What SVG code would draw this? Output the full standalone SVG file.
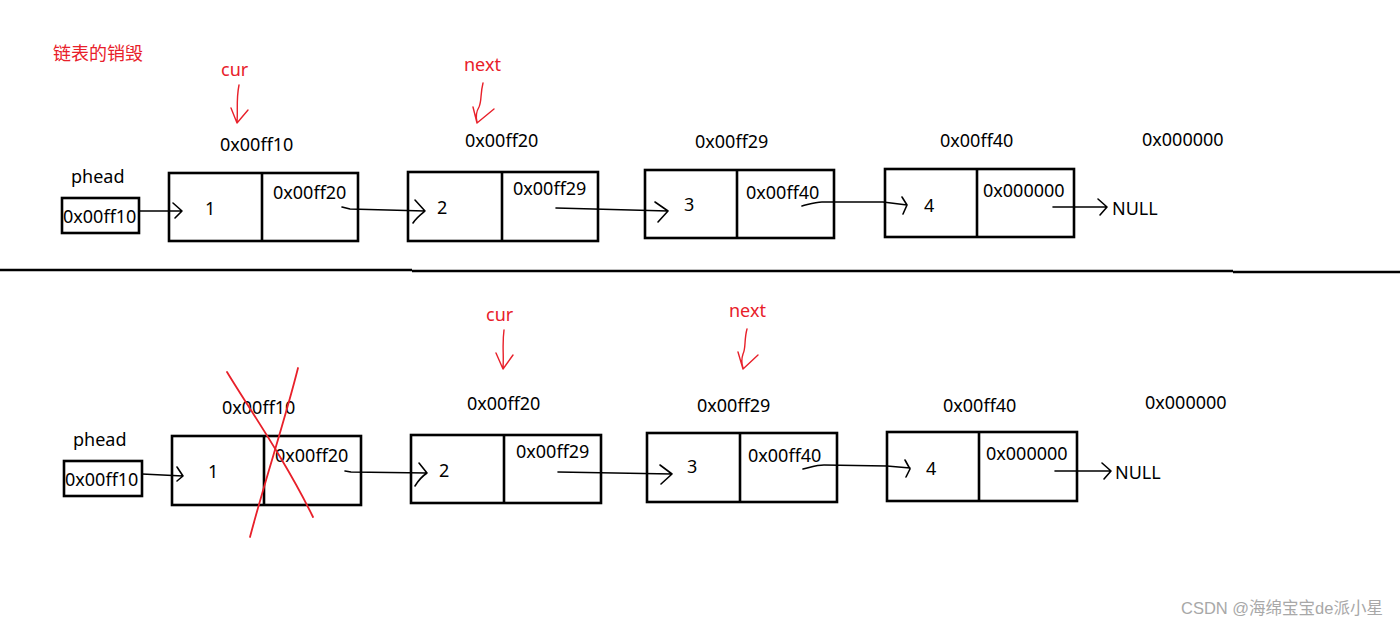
<svg xmlns="http://www.w3.org/2000/svg" width="1400" height="625" viewBox="0 0 1400 625">
<style>
.bg{fill:#ffffff}
.box{fill:none;stroke:#000;stroke-width:2.6}
.t{font-family:"Noto Sans","Liberation Sans",sans-serif;font-size:18px;fill:#000}
.r{font-family:"Noto Sans","Liberation Sans",sans-serif;font-size:18px;fill:#e8202a}
.cn{font-family:"Noto Sans CJK SC","Noto Sans",sans-serif;font-size:18px;fill:#e8202a}
.wm{font-family:"Liberation Sans","Noto Sans CJK SC",sans-serif;font-size:16.5px;fill:#a8a8a8}
.ln{fill:none;stroke:#000;stroke-width:1.6;stroke-linecap:round;stroke-linejoin:round}
.rl{fill:none;stroke:#e8202a;stroke-width:1.4;stroke-linecap:round;stroke-linejoin:round}
.x{fill:none;stroke:#e8202a;stroke-width:1.8;stroke-linecap:round}
.sep{fill:none;stroke:#000;stroke-width:2.6}
</style>
<rect class="bg" x="0" y="0" width="1400" height="625"/>

<text class="cn" x="53" y="60">链表的销毁</text>

<!-- separator -->
<g id="separator">
<line class="sep" x1="0" y1="270" x2="412" y2="270"/>
<line class="sep" x1="412" y1="271" x2="1233" y2="271"/>
<line class="sep" x1="1233" y1="272" x2="1400" y2="272"/>
</g>

<!-- ===== TOP ROW ===== -->
<g id="top-cur">
<text class="r" x="221" y="76">cur</text>
<path class="rl" d="M239,85 C236,100 238,110 237,122 M231,108 L237,123 L248,110"/>
</g>
<g id="top-next">
<text class="r" x="464" y="71">next</text>
<path class="rl" d="M483,83 C480,95 482,100 479,107 C476,112 476,118 477,122 M473,107 L477,123 L494,109"/>
</g>

<g id="top-phead">
<text class="t" x="71" y="183">phead</text>
<rect class="box" x="62" y="198" width="77" height="35"/>
<text class="t" x="63" y="223">0x00ff10</text>
</g>

<g id="top-node1">
<text class="t" x="220" y="151">0x00ff10</text>
<rect class="box" x="169" y="173" width="189" height="68"/>
<line class="box" x1="262" y1="173" x2="262" y2="241"/>
<text class="t" x="205" y="215">1</text>
<text class="t" x="273" y="199">0x00ff20</text>
</g>

<g id="top-node2">
<text class="t" x="465" y="147">0x00ff20</text>
<rect class="box" x="408" y="172" width="190" height="69"/>
<line class="box" x1="502" y1="172" x2="502" y2="241"/>
<text class="t" x="437" y="214">2</text>
<text class="t" x="513" y="195">0x00ff29</text>
</g>

<g id="top-node3">
<text class="t" x="695" y="148">0x00ff29</text>
<rect class="box" x="645" y="170" width="189" height="68"/>
<line class="box" x1="737" y1="170" x2="737" y2="238"/>
<text class="t" x="684" y="211">3</text>
<text class="t" x="746" y="199">0x00ff40</text>
</g>

<g id="top-node4">
<text class="t" x="940" y="147">0x00ff40</text>
<rect class="box" x="885" y="169" width="189" height="68"/>
<line class="box" x1="977" y1="169" x2="977" y2="237"/>
<text class="t" x="924" y="212">4</text>
<text class="t" x="983" y="197">0x000000</text>
</g>

<g id="top-null">
<text class="t" x="1142" y="146">0x000000</text>
<text class="t" x="1112" y="215">NULL</text>
</g>

<!-- ===== BOTTOM ROW ===== -->
<g id="bot-cur">
<text class="r" x="486" y="321">cur</text>
<path class="rl" d="M504,330 C502,345 504,355 503,368 M496,353 L503,369 L513,355"/>
</g>
<g id="bot-next">
<text class="r" x="729" y="317">next</text>
<path class="rl" d="M747,329 C744,340 746,348 743,354 C741,360 742,365 743,368 M738,352 L743,369 L758,355"/>
</g>

<g id="bot-phead">
<text class="t" x="73" y="446">phead</text>
<rect class="box" x="64" y="461" width="78" height="35"/>
<text class="t" x="65" y="486">0x00ff10</text>
</g>

<g id="bot-node1">
<text class="t" x="222" y="414">0x00ff10</text>
<rect class="box" x="172" y="436" width="189" height="69"/>
<line class="box" x1="264" y1="436" x2="264" y2="505"/>
<text class="t" x="208" y="478">1</text>
<text class="t" x="275" y="462">0x00ff20</text>
<path class="x" d="M227,372 C250,410 285,460 313,517"/>
<path class="x" d="M298,368 C285,420 265,480 250,537"/>
</g>

<g id="bot-node2">
<text class="t" x="467" y="410">0x00ff20</text>
<rect class="box" x="411" y="435" width="190" height="68"/>
<line class="box" x1="504" y1="435" x2="504" y2="503"/>
<text class="t" x="439" y="477">2</text>
<text class="t" x="516" y="458">0x00ff29</text>
</g>

<g id="bot-node3">
<text class="t" x="697" y="412">0x00ff29</text>
<rect class="box" x="647" y="433" width="190" height="69"/>
<line class="box" x1="740" y1="433" x2="740" y2="502"/>
<text class="t" x="687" y="473">3</text>
<text class="t" x="748" y="462">0x00ff40</text>
</g>

<g id="bot-node4">
<text class="t" x="943" y="412">0x00ff40</text>
<rect class="box" x="887" y="432" width="190" height="69"/>
<line class="box" x1="979" y1="432" x2="979" y2="501"/>
<text class="t" x="926" y="475">4</text>
<text class="t" x="986" y="460">0x000000</text>
</g>

<g id="bot-null">
<text class="t" x="1145" y="409">0x000000</text>
<text class="t" x="1115" y="479">NULL</text>
</g>

<!-- connectors -->
<g id="connectors">
<!-- top -->
<path class="ln" d="M140,211 L182,211 M173,203 L182,211 L175,218"/>
<path class="ln" d="M342,207 L350,209 L425,211 M415,200 L425,211 C420,215 416,218 413,223"/>
<path class="ln" d="M556,208 L668,211 M655,202 L668,211 L658,222"/>
<path class="ln" d="M802,206 C810,204 815,202 822,202 L883,202 L907,205 M902,197 L907,205 L903,214"/>
<path class="ln" d="M1053,207 L1107,207 M1098,199 L1107,207 L1100,215"/>
<!-- bottom -->
<path class="ln" d="M142,474 L183,476 M177,467 L183,476 L177,481"/>
<path class="ln" d="M345,471 L351,472 L427,473 M419,463 L427,473 C421,477 418,481 415,486"/>
<path class="ln" d="M558,472 L672,474 M660,465 L672,474 L661,484"/>
<path class="ln" d="M803,469 C812,467 816,465 824,465 L887,466 L910,468 M905,460 L910,469 L906,477"/>
<path class="ln" d="M1055,471 L1111,471 M1102,463 L1111,471 L1104,479"/>
</g>

<text class="wm" x="1181" y="614">CSDN @海绵宝宝de派小星</text>
</svg>
